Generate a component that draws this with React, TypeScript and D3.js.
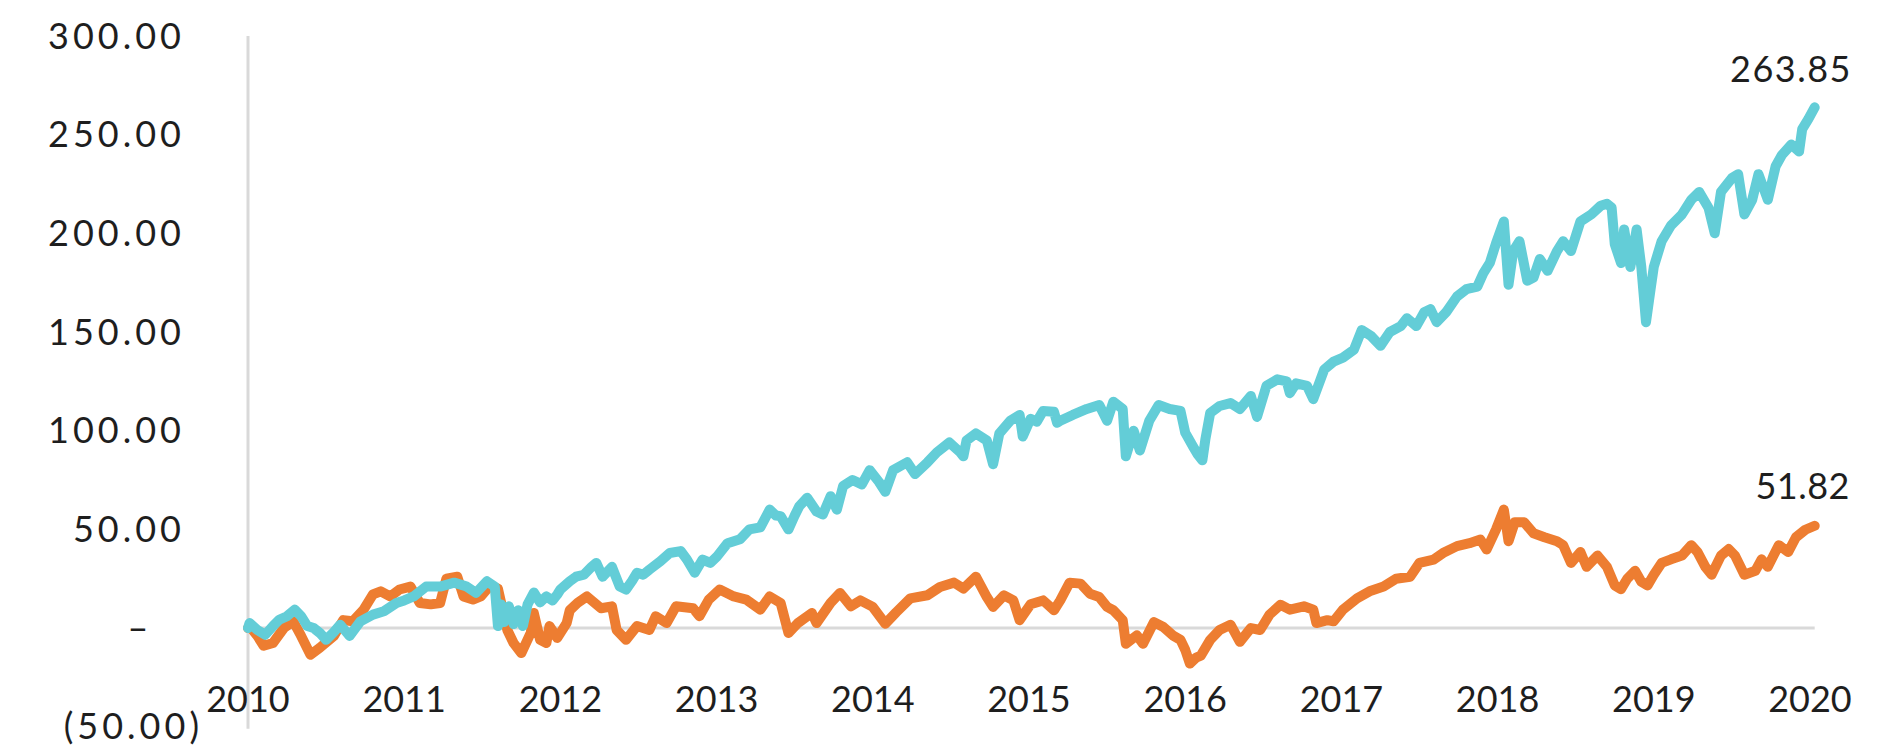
import React from "react";
import * as d3 from "d3";

// ---- Data ----
const yTicks = [300, 250, 200, 150, 100, 50, 0, -50];
const yTickLabels = ["300.00", "250.00", "200.00", "150.00", "100.00", "50.00", "–", "(50.00)"];
const xYears = [2010, 2011, 2012, 2013, 2014, 2015, 2016, 2017, 2018, 2019, 2020];

const cyanDates = [
  2010.0, 2010.01, 2010.06, 2010.11, 2010.16, 2010.2, 2010.25, 2010.3, 2010.34, 2010.38, 2010.42, 2010.46,
  2010.5, 2010.55, 2010.59, 2010.65, 2010.72, 2010.8, 2010.87, 2010.95, 2011.0, 2011.06, 2011.14, 2011.23,
  2011.32, 2011.4, 2011.46, 2011.53, 2011.58, 2011.6, 2011.62, 2011.64, 2011.67, 2011.7, 2011.73, 2011.76,
  2011.79, 2011.83, 2011.87, 2011.91, 2011.95, 2011.98,
  2012.0, 2012.06, 2012.1, 2012.15, 2012.2, 2012.23, 2012.27, 2012.33, 2012.38, 2012.42, 2012.46, 2012.49,
  2012.53, 2012.57, 2012.64, 2012.7, 2012.77, 2012.81, 2012.86, 2012.91, 2012.96, 2013.0, 2013.07, 2013.15,
  2013.21, 2013.28, 2013.34, 2013.38, 2013.41, 2013.46, 2013.5, 2013.53, 2013.58, 2013.64, 2013.68, 2013.73,
  2013.77, 2013.81, 2013.87, 2013.93, 2013.98,
  2014.04, 2014.08, 2014.13, 2014.22, 2014.27, 2014.35, 2014.41, 2014.49, 2014.56, 2014.58, 2014.6, 2014.66,
  2014.73, 2014.77, 2014.81, 2014.88, 2014.94, 2014.96, 2015.01, 2015.05, 2015.09, 2015.16, 2015.18, 2015.2,
  2015.28, 2015.37, 2015.45, 2015.5, 2015.54, 2015.6, 2015.62, 2015.67, 2015.71, 2015.77, 2015.83, 2015.9,
  2015.97,
  2016.0, 2016.05, 2016.08, 2016.11, 2016.13, 2016.16, 2016.22, 2016.29, 2016.35, 2016.42, 2016.46, 2016.52,
  2016.59, 2016.65, 2016.67, 2016.71, 2016.78, 2016.82, 2016.89, 2016.95, 2017.01, 2017.08, 2017.13, 2017.19,
  2017.25, 2017.31, 2017.38, 2017.42, 2017.48, 2017.53, 2017.57, 2017.61, 2017.67, 2017.74, 2017.8, 2017.87,
  2017.91, 2017.95, 2017.99,
  2018.04, 2018.07, 2018.1, 2018.14, 2018.19, 2018.23, 2018.27, 2018.32, 2018.38, 2018.42, 2018.47, 2018.53,
  2018.6, 2018.66, 2018.7, 2018.73, 2018.75, 2018.79, 2018.81, 2018.85, 2018.89, 2018.92, 2018.95, 2018.98,
  2019.0, 2019.05, 2019.11, 2019.18, 2019.24, 2019.29, 2019.35, 2019.39, 2019.43, 2019.5, 2019.54, 2019.58,
  2019.63, 2019.67, 2019.73, 2019.78, 2019.82, 2019.88, 2019.93, 2019.95, 2019.99, 2020.03,
];
const cyanValues = [
  0, 2.5, -1, -3.4, 1, 4.2, 6, 9.3, 6, 1, 0, -2.5,
  -6, -2, 1.7, -4, 3.4, 6.8, 8.5, 12.7, 14, 16, 21, 21,
  23, 21, 17.8, 23.7, 21, 1, 12, 3, 11, 2, 9, 1,
  12, 18, 13, 16, 14, 17,
  19.5, 23.7, 26, 27, 31, 33, 26, 31, 21, 19.5, 24, 28,
  27, 29.6, 33.8, 38, 39, 34.7, 28, 34.7, 33, 36, 43, 45,
  50, 51, 60, 57, 56.7, 50, 57, 61.8, 66, 59, 57.5, 66.8,
  60, 72, 75, 72.8, 80,
  74, 69, 80, 84, 78, 84, 89, 94, 89, 87, 95, 98.6,
  95, 83, 98.6, 105, 108, 97, 106, 104.6, 110, 109.6, 104, 105,
  108, 111, 113, 105, 114.7, 111, 87, 100, 90, 105, 113, 111,
  110,
  99, 92, 88, 85, 96, 109, 112.5, 114, 111, 117.6, 107, 122.7,
  126, 125, 119, 124, 122.7, 116, 131, 135, 137, 141, 151, 148,
  143, 150, 153, 157, 153, 160, 161.6, 155, 160, 168, 171.7, 173,
  180, 185, 195,
  206, 174, 191, 196, 176, 177.6, 187, 181, 191, 196, 191, 206,
  209.6, 214, 215, 213, 194.5, 185, 202, 183, 202, 183, 155, 172,
  183, 196, 204, 209.6, 217, 221, 213, 200, 221, 228, 230, 209.6,
  217, 230, 217, 234, 239.7, 245, 241.5, 252.8, 258, 263.85,
];

const orangeDates = [
  2010.0, 2010.01, 2010.06, 2010.1, 2010.16, 2010.23, 2010.29, 2010.34, 2010.4, 2010.46, 2010.55, 2010.61,
  2010.67, 2010.74, 2010.8, 2010.85, 2010.91, 2010.97, 2011.04, 2011.1, 2011.17, 2011.23, 2011.27, 2011.34,
  2011.38, 2011.44, 2011.49, 2011.55, 2011.6, 2011.66, 2011.7, 2011.75, 2011.81, 2011.83, 2011.87, 2011.91,
  2011.93, 2011.98,
  2012.04, 2012.06, 2012.11, 2012.17, 2012.26, 2012.33, 2012.36, 2012.42, 2012.49, 2012.57, 2012.61, 2012.68,
  2012.74, 2012.85, 2012.89, 2012.95, 2013.02, 2013.11, 2013.19, 2013.28, 2013.34, 2013.41, 2013.46, 2013.52,
  2013.61, 2013.64, 2013.73, 2013.79, 2013.86, 2013.92, 2014.0, 2014.08, 2014.15, 2014.24, 2014.35, 2014.43,
  2014.52, 2014.58, 2014.66, 2014.73, 2014.77, 2014.84, 2014.9, 2014.94, 2015.01, 2015.09, 2015.16, 2015.2,
  2015.26, 2015.33, 2015.39, 2015.45, 2015.5, 2015.54, 2015.6, 2015.62, 2015.69, 2015.73, 2015.8, 2015.86,
  2015.92, 2015.97,
  2016.0, 2016.03, 2016.07, 2016.1, 2016.16, 2016.22, 2016.29, 2016.35, 2016.42, 2016.48, 2016.54, 2016.61,
  2016.67, 2016.76, 2016.82, 2016.84, 2016.91, 2016.95, 2017.01, 2017.1, 2017.18, 2017.27, 2017.35, 2017.44,
  2017.5, 2017.59, 2017.65, 2017.74, 2017.82, 2017.89, 2017.93, 2017.99,
  2018.04, 2018.07, 2018.11, 2018.17, 2018.23, 2018.3, 2018.38, 2018.42, 2018.47, 2018.53, 2018.57, 2018.64,
  2018.7, 2018.75, 2018.79, 2018.83, 2018.88, 2018.92, 2018.96, 2019.0, 2019.05, 2019.11, 2019.18, 2019.24,
  2019.28, 2019.33, 2019.37, 2019.43, 2019.48, 2019.52, 2019.58, 2019.65, 2019.69, 2019.73, 2019.8, 2019.86,
  2019.91, 2019.97, 2020.03,
];
const orangeValues = [
  0, 1, -4, -9, -7.6, 0, 3.4, -4, -13.5, -10, -4, 4,
  3.4, 9.3, 17, 18.6, 16, 19.5, 21, 12.7, 12, 12.7, 25, 26,
  16, 14.4, 16, 21.6, 20, -1, -7.6, -12.7, -2.5, 7.6, -6, -7.6,
  1, -5,
  2.5, 9, 12.7, 16, 10, 11, -1, -6, 1, -1, 6, 2.5,
  11, 10, 6, 14.4, 19.5, 16, 14.4, 9.3, 16, 12.7, -2.5, 2.5,
  7.6, 2.5, 12.7, 17.8, 11, 14, 10.7, 2.2, 8, 15, 16.6, 20.8,
  23, 20, 26, 15.7, 10.7, 16.6, 14, 4, 12, 14, 9, 14,
  23, 22.5, 17.4, 15.7, 10.7, 9, 4, -8, -3.7, -8, 3, 0.5,
  -3.7, -6,
  -11, -18, -15, -14, -6, -1, 1.7, -7, 0, -1, 6.8, 11.8,
  9.3, 11, 9.3, 2.5, 4, 3.4, 9.3, 15, 18.6, 21, 25, 26,
  33, 34.7, 38, 41.5, 43, 44.8, 39.8, 50,
  60, 44, 53.6, 53.6, 48, 46, 44, 42, 33, 38.5, 31, 36.7,
  31, 21.6, 19.7, 25, 29, 23.5, 21.6, 27, 33, 34.8, 36.7, 42,
  38.5, 31, 27, 36.7, 40, 36.7, 27, 29, 34.8, 31, 42, 38.5,
  46, 49.8, 51.82,
];

const endLabels = ["263.85", "51.82"];

// ---- Layout ----
const W = 1894;
const H = 750;
const FONT = "Lato, 'Open Sans', sans-serif";

export default function App() {
  const x = d3.scaleLinear().domain([2010, 2020]).range([248, 1810]);
  const y = d3.scaleLinear().domain([-50, 300]).range([726.7, 36]);

  const line = d3
    .line<[number, number]>()
    .x((d) => x(d[0]))
    .y((d) => y(d[1]))
    .curve(d3.curveLinear);

  const cyan = cyanDates.map((d, i) => [d, cyanValues[i]] as [number, number]);
  const orange = orangeDates.map((d, i) => [d, orangeValues[i]] as [number, number]);

  const lastX = x(cyanDates[cyanDates.length - 1]);

  return (
    <svg
      width={W}
      height={H}
      viewBox={`0 0 ${W} ${H}`}
      style={{ position: "absolute", left: 0, top: 0, background: "#fff" }}
    >
      {/* y-axis line */}
      <line x1={x(2010)} x2={x(2010)} y1={y(300)} y2={y(-50) + 2} stroke="#d9d9d9" strokeWidth={3} />
      {/* zero line */}
      <line x1={x(2010)} x2={lastX} y1={y(0)} y2={y(0)} stroke="#d9d9d9" strokeWidth={3} />

      {/* y tick labels */}
      {yTicks.map((v, i) => {
        const lab = yTickLabels[i];
        if (lab === "–") {
          return (
            <text key={v} x={138} y={y(v)} dy="0.35em" textAnchor="middle" fontFamily={FONT} fontSize={36} fill="#1e1e1e">
              {lab}
            </text>
          );
        }
        const xe = lab.startsWith("(") ? 203 : 185;
        return (
          <text
            key={v}
            x={xe}
            y={y(v)}
            dy="0.35em"
            textAnchor="end"
            fontFamily={FONT}
            fontSize={36}
            letterSpacing={4}
            fill="#1e1e1e"
          >
            {lab}
          </text>
        );
      })}

      {/* x tick labels */}
      {xYears.map((yr) => (
        <text key={yr} x={x(yr)} y={712} textAnchor="middle" fontFamily={FONT} fontSize={36} fill="#1e1e1e">
          {yr}
        </text>
      ))}

      {/* series */}
      <path d={line(orange) || ""} fill="none" stroke="#ED7D31" strokeWidth={10} strokeLinejoin="round" strokeLinecap="round" />
      <path d={line(cyan) || ""} fill="none" stroke="#63CDD7" strokeWidth={10} strokeLinejoin="round" strokeLinecap="round" />

      {/* end labels */}
      <text x={1852} y={82} textAnchor="end" fontFamily={FONT} fontSize={36} letterSpacing={1.5} fill="#1e1e1e">
        {endLabels[0]}
      </text>
      <text x={1850} y={499} textAnchor="end" fontFamily={FONT} fontSize={36} letterSpacing={0.5} fill="#1e1e1e">
        {endLabels[1]}
      </text>
    </svg>
  );
}
